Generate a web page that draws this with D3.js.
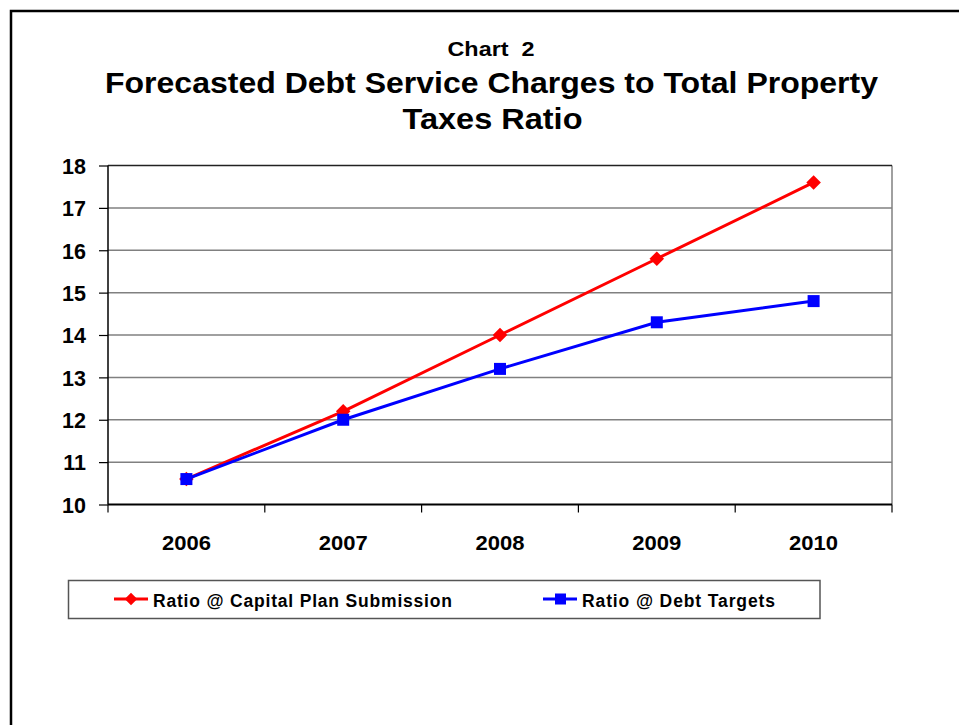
<!DOCTYPE html>
<html><head><meta charset="utf-8">
<script src="https://cdn.jsdelivr.net/npm/d3@7/dist/d3.min.js"></script>
<style>
html,body{margin:0;padding:0;background:#fff;}
text{font-family:"Liberation Sans",Arial,sans-serif;font-weight:bold;fill:#000;}
</style></head>
<body>
<svg id="c" width="959" height="725"></svg>
<script>
const years = ["2006","2007","2008","2009","2010"];
const capitalPlan = [10.6, 12.2, 14.0, 15.8, 17.6];
const debtTargets = [10.6, 12.0, 13.2, 14.3, 14.8];
const yTicks = [10,11,12,13,14,15,16,17,18];
const seriesNames = ["Ratio @ Capital Plan Submission","Ratio @ Debt Targets"];
const titleLines = ["Chart\u00a0\u00a02","Forecasted Debt Service Charges to Total Property","Taxes Ratio"];

const svg = d3.select("#c");
// outer frame
svg.append("rect").attr("x",11).attr("y",11).attr("width",1000).attr("height",1000)
  .attr("fill","none").attr("stroke","#000").attr("stroke-width",2.5);

const L=108, R=892, T=165.5, B=504.5;
const x = d3.scaleBand().domain(years).range([L,R]);
const y = d3.scaleLinear().domain([10,18]).range([B,T]);

// title
svg.append("text").attr("x",491).attr("y",56).attr("text-anchor","middle").attr("font-size",21)
  .attr("textLength",87).attr("lengthAdjust","spacingAndGlyphs").text(titleLines[0]);
svg.append("text").attr("x",491.5).attr("y",92.5).attr("text-anchor","middle").attr("font-size",29.5)
  .attr("textLength",773).attr("lengthAdjust","spacingAndGlyphs").text(titleLines[1]);
svg.append("text").attr("x",492.5).attr("y",128.5).attr("text-anchor","middle").attr("font-size",29.5)
  .attr("textLength",180).attr("lengthAdjust","spacingAndGlyphs").text(titleLines[2]);

// gridlines
svg.append("g").selectAll("line").data(yTicks.filter(v=>v>10&&v<18)).join("line")
  .attr("x1",L).attr("x2",R).attr("y1",d=>y(d)).attr("y2",d=>y(d))
  .attr("stroke","#808080").attr("stroke-width",1.5);
// plot border
svg.append("line").attr("x1",R).attr("x2",R).attr("y1",T).attr("y2",B).attr("stroke","#808080").attr("stroke-width",1.5);
svg.append("line").attr("x1",L).attr("x2",R).attr("y1",T).attr("y2",T).attr("stroke","#222").attr("stroke-width",1.5);

// y axis
const ya = svg.append("g").attr("transform",`translate(${L},0)`)
  .call(d3.axisLeft(y).tickValues(yTicks).tickSize(9).tickPadding(13).tickFormat(d3.format("d")));
ya.select(".domain").attr("stroke","#000").attr("stroke-width",1.5).attr("d",`M0,${T}V${B}`);
ya.selectAll(".tick line").attr("stroke","#000").attr("stroke-width",1.2);
ya.selectAll(".tick text").attr("font-size",21.5).attr("font-family","Liberation Sans, Arial, sans-serif").attr("font-weight","bold").attr("fill","#000").attr("dy","0.36em");

// x axis
const xa = svg.append("g").attr("transform",`translate(0,${B})`)
  .call(d3.axisBottom(x).tickSize(0).tickPadding(30));
xa.select(".domain").attr("stroke","#000").attr("stroke-width",2).attr("d",`M${L},0H${R}`);
xa.selectAll(".tick text").attr("font-size",21).attr("font-family","Liberation Sans, Arial, sans-serif").attr("font-weight","bold").attr("fill","#000")
  .attr("y",45).attr("dy",0).attr("textLength",49).attr("lengthAdjust","spacingAndGlyphs");
// category separator ticks
const sep = years.map(d=>x(d)).concat([R]);
svg.append("g").selectAll("line").data(sep).join("line")
  .attr("x1",d=>d).attr("x2",d=>d).attr("y1",B).attr("y2",B+8)
  .attr("stroke","#000").attr("stroke-width",1.2);

const cx = d=>x(d)+x.bandwidth()/2;
const line = d3.line().x((d,i)=>cx(years[i])).y(d=>y(d));

// red series
svg.append("path").datum(capitalPlan).attr("d",line).attr("fill","none").attr("stroke","#ff0000").attr("stroke-width",3);
svg.append("g").selectAll("path").data(capitalPlan).join("path")
  .attr("transform",(d,i)=>`translate(${cx(years[i])},${y(d)})`)
  .attr("d",d3.symbol(d3.symbolDiamond2,135)).attr("fill","#ff0000");
// blue series
svg.append("path").datum(debtTargets).attr("d",line).attr("fill","none").attr("stroke","#0000ff").attr("stroke-width",3);
svg.append("g").selectAll("rect").data(debtTargets).join("rect")
  .attr("x",(d,i)=>cx(years[i])-6).attr("y",d=>y(d)-6).attr("width",12).attr("height",12).attr("fill","#0000ff");

// legend
svg.append("rect").attr("x",68.5).attr("y",580.5).attr("width",751.5).attr("height",38)
  .attr("fill","#fff").attr("stroke","#555").attr("stroke-width",1.5);
const ly = 599;
svg.append("line").attr("x1",114).attr("x2",148).attr("y1",ly).attr("y2",ly).attr("stroke","#ff0000").attr("stroke-width",3);
svg.append("path").attr("transform",`translate(131,${ly})`).attr("d",d3.symbol(d3.symbolDiamond2,100)).attr("fill","#ff0000");
svg.append("text").attr("x",153).attr("y",606.5).attr("font-size",17.5).attr("textLength",299).attr("lengthAdjust","spacing").text(seriesNames[0]);
svg.append("line").attr("x1",543).attr("x2",577).attr("y1",ly).attr("y2",ly).attr("stroke","#0000ff").attr("stroke-width",3);
svg.append("rect").attr("x",555).attr("y",ly-5.5).attr("width",11).attr("height",11).attr("fill","#0000ff");
svg.append("text").attr("x",582).attr("y",606.5).attr("font-size",17.5).attr("textLength",193).attr("lengthAdjust","spacing").text(seriesNames[1]);
</script>
</body></html>
